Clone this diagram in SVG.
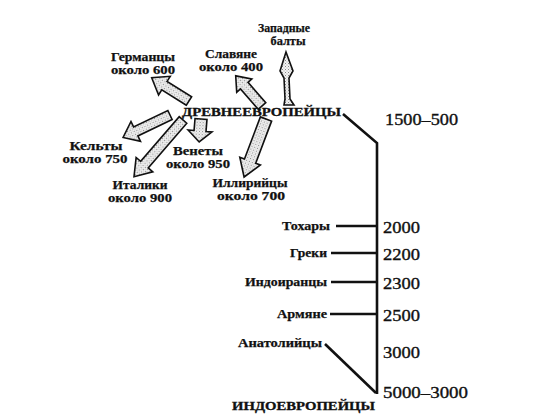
<svg xmlns="http://www.w3.org/2000/svg" width="555" height="414" viewBox="0 0 555 414">
<style>
.lb{font-family:"Liberation Serif","DejaVu Serif",serif;font-weight:bold;font-size:12.5px;fill:#111;stroke:#111;stroke-width:0.25}
.big{font-family:"Liberation Serif","DejaVu Serif",serif;font-weight:bold;font-size:13.5px;fill:#111;stroke:#111;stroke-width:0.35}
.num{font-family:"Liberation Serif","DejaVu Serif",serif;font-size:16px;fill:#111;stroke:#111;stroke-width:0.35}
.ar{fill:url(#dots);stroke:#111;stroke-width:1.6;stroke-linejoin:miter}
.ln{stroke:#111;stroke-width:2.6;fill:none}
</style>
<defs>
<pattern id="dots" width="3" height="3" patternUnits="userSpaceOnUse">
<rect width="3" height="3" fill="#f2f2f2"/>
<rect width="1" height="1" fill="#888"/>
<rect x="1.5" y="1.5" width="1" height="1" fill="#aaa"/>
</pattern>
</defs>
<rect width="555" height="414" fill="#fff"/>

<g id="connectors">
<polygon class="ar" transform="translate(183,120) rotate(130.8)" points="0,-5 59,-5 59,-11 75,0 59,11 59,5 0,5"/>
<polygon class="ar" transform="translate(170,115) rotate(154.4)" points="0,-5 38,-5 38,-11 52,0 38,11 38,5 0,5"/>
<polygon class="ar" transform="translate(189,101) rotate(212)" points="0,-5 29,-5 29,-11 44,0 29,11 29,5 0,5"/>
<polygon class="ar" transform="translate(262,106) rotate(228.9)" points="0,-5 27,-5 27,-10 40,0 27,10 27,5 0,5"/>
<path class="ar" d="M286,52 L293,71 L289,78 L290,99 L294,105 L284,105 L285,99 L284,78 L280,71 Z"/>
<polygon class="ar" transform="translate(201,119) rotate(94.6)" points="0,-6 12,-6 12,-12 23,0 12,12 12,6 0,6"/>
<polygon class="ar" transform="translate(266,119) rotate(110.7)" points="0,-6 45,-6 45,-11 62,0 45,11 45,6 0,6"/>
<polyline class="ln" points="343,114 377,143 377,394" stroke-width="3"/>
<line class="ln" x1="325" y1="344" x2="376" y2="393"/>
<line class="ln" x1="336" y1="226" x2="377" y2="226"/>
<line class="ln" x1="331" y1="253" x2="377" y2="253"/>
<line class="ln" x1="331" y1="282" x2="377" y2="282"/>
<line class="ln" x1="330" y1="314" x2="377" y2="314"/>
</g>

<g id="baltic"><text class="lb" x="284" y="32" text-anchor="middle" textLength="52" lengthAdjust="spacingAndGlyphs">Западные</text><text class="lb" x="288" y="45" text-anchor="middle" textLength="35" lengthAdjust="spacingAndGlyphs">балты</text></g>
<g id="germans"><text class="lb" x="143" y="61" text-anchor="middle" textLength="64" lengthAdjust="spacingAndGlyphs">Германцы</text><text class="lb" x="143" y="73.5" text-anchor="middle" textLength="64" lengthAdjust="spacingAndGlyphs">около 600</text></g>
<g id="slavs"><text class="lb" x="231" y="58" text-anchor="middle" textLength="52" lengthAdjust="spacingAndGlyphs">Славяне</text><text class="lb" x="231" y="70.5" text-anchor="middle" textLength="64" lengthAdjust="spacingAndGlyphs">около 400</text></g>
<g id="ancient"><text class="big" x="182" y="116" textLength="159" lengthAdjust="spacingAndGlyphs">ДРЕВНЕЕВРОПЕЙЦЫ</text></g>
<g id="celts"><text class="lb" x="96" y="150" text-anchor="middle" textLength="53" lengthAdjust="spacingAndGlyphs">Кельты</text><text class="lb" x="95" y="162.5" text-anchor="middle" textLength="65" lengthAdjust="spacingAndGlyphs">около 750</text></g>
<g id="veneti"><text class="lb" x="198" y="155" text-anchor="middle" textLength="50" lengthAdjust="spacingAndGlyphs">Венеты</text><text class="lb" x="198" y="167.5" text-anchor="middle" textLength="64" lengthAdjust="spacingAndGlyphs">около 950</text></g>
<g id="italics"><text class="lb" x="140" y="189" text-anchor="middle" textLength="55" lengthAdjust="spacingAndGlyphs">Италики</text><text class="lb" x="140" y="201.5" text-anchor="middle" textLength="64" lengthAdjust="spacingAndGlyphs">около 900</text></g>
<g id="illyrians"><text class="lb" x="250" y="187" text-anchor="middle" textLength="75" lengthAdjust="spacingAndGlyphs">Иллирийцы</text><text class="lb" x="251" y="199.5" text-anchor="middle" textLength="68" lengthAdjust="spacingAndGlyphs">около 700</text></g>

<g id="t1500"><text class="num" x="385" y="125" textLength="73" lengthAdjust="spacingAndGlyphs">1500–500</text></g>
<g id="tochar"><text class="lb" x="330" y="230" text-anchor="end" textLength="48" lengthAdjust="spacingAndGlyphs">Тохары</text><text class="num" x="383" y="233" textLength="37" lengthAdjust="spacingAndGlyphs">2000</text></g>
<g id="greek"><text class="lb" x="327" y="257" text-anchor="end" textLength="37" lengthAdjust="spacingAndGlyphs">Греки</text><text class="num" x="383" y="260" textLength="37" lengthAdjust="spacingAndGlyphs">2200</text></g>
<g id="indoiran"><text class="lb" x="327" y="286" text-anchor="end" textLength="82" lengthAdjust="spacingAndGlyphs">Индоиранцы</text><text class="num" x="383" y="289" textLength="37" lengthAdjust="spacingAndGlyphs">2300</text></g>
<g id="armen"><text class="lb" x="327" y="318" text-anchor="end" textLength="50" lengthAdjust="spacingAndGlyphs">Армяне</text><text class="num" x="383" y="321" textLength="37" lengthAdjust="spacingAndGlyphs">2500</text></g>
<g id="anatol"><text class="lb" x="322" y="347" text-anchor="end" textLength="84" lengthAdjust="spacingAndGlyphs">Анатолийцы</text><text class="num" x="383" y="358" textLength="37" lengthAdjust="spacingAndGlyphs">3000</text></g>
<g id="t5000"><text class="num" x="383" y="398" textLength="85" lengthAdjust="spacingAndGlyphs">5000–3000</text></g>
<g id="indoeuro"><text class="big" x="232" y="410" textLength="143" lengthAdjust="spacingAndGlyphs">ИНДОЕВРОПЕЙЦЫ</text></g>
</svg>
